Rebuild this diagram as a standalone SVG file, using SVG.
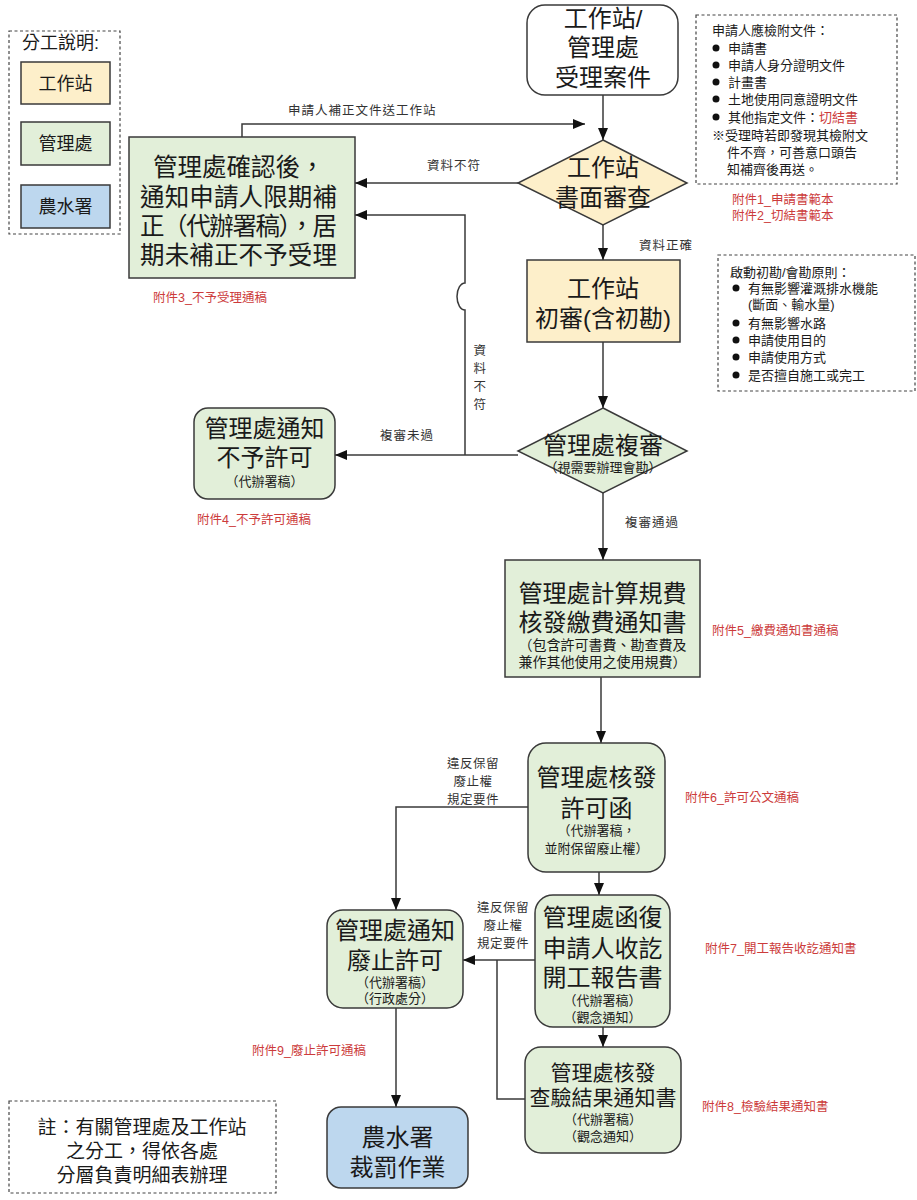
<svg xmlns="http://www.w3.org/2000/svg" width="917" height="1200" viewBox="0 0 917 1200">
<style>
text{font-family:"Liberation Sans","Noto Sans CJK TC",sans-serif;fill:#1a1a1a}
.m{font-size:24px;text-anchor:middle}
.s{font-size:13px;text-anchor:middle}
.lb{font-size:12.5px;fill:#333;letter-spacing:1px}
.lbc{font-size:12.5px;fill:#333;text-anchor:middle;letter-spacing:0.5px}
.red{font-size:12.5px;fill:#cc3b3b}
.box{stroke:#3a3a3a;stroke-width:1.5}
.ws{fill:#fdefca}
.gl{fill:#e2efd9}
.bl{fill:#bdd7ee}
.wh{fill:#ffffff}
.dash{fill:none;stroke:#444;stroke-width:1.2;stroke-dasharray:3 2.5}
.c{fill:none;stroke:#3a3a3a;stroke-width:1.5}
.ca{fill:none;stroke:#3a3a3a;stroke-width:1.5;marker-end:url(#ah)}
.note{font-size:13px}
</style>
<defs>
<marker id="ah" markerUnits="userSpaceOnUse" markerWidth="12" markerHeight="12" viewBox="0 0 12 10" refX="12" refY="5" orient="auto">
<path d="M0,0 L12,5 L0,10 z" fill="#111"/>
</marker>
</defs>

<!-- legend -->
<g id="legend">
<rect class="dash" x="9" y="31" width="111" height="203"/>
<text x="22" y="49" style="font-size:18px">分工說明:</text>
<rect class="box ws" x="21" y="62" width="89" height="42"/>
<text class="m" x="65.5" y="90" style="font-size:18px">工作站</text>
<rect class="box gl" x="21" y="122" width="89" height="43"/>
<text class="m" x="65.5" y="150" style="font-size:18px">管理處</text>
<rect class="box bl" x="21" y="185" width="89" height="43"/>
<text class="m" x="65.5" y="213" style="font-size:18px">農水署</text>
</g>

<!-- connectors -->
<g id="connectors">
<path class="ca" d="M603,95 V140"/>
<path class="ca" d="M603,225 V260"/>
<path class="ca" d="M603,342 V408"/>
<path class="ca" d="M603,493 V560"/>
<path class="ca" d="M601,677 V743"/>
<path class="ca" d="M599,872 V895"/>
<path class="ca" d="M603,1027 V1047"/>
<path class="ca" d="M528,807 H396 V910"/>
<path class="ca" d="M535,960 H463"/>
<path class="c" d="M525,1099 H497 V960"/>
<path class="ca" d="M396,1008 V1107"/>
<path class="ca" d="M518,183 H355"/>
<path class="ca" d="M518,455 H335"/>
<path class="ca" d="M465,455 V310 A8,13.5 0 0 1 465,283 V215 H355"/>
<path class="ca" d="M242,137 V124 H585"/>
<text class="lb" x="288" y="115">申請人補正文件送工作站</text>
<text class="lb" x="427" y="170">資料不符</text>
<text class="lb" x="639" y="250">資料正確</text>
<text class="lb" x="380" y="440">複審未過</text>
<text class="lbc" x="480" y="355">資</text>
<text class="lbc" x="480" y="373">料</text>
<text class="lbc" x="480" y="391">不</text>
<text class="lbc" x="480" y="409">符</text>
<text class="lb" x="625" y="527">複審通過</text>
<text class="lbc" x="473" y="768">違反保留</text>
<text class="lbc" x="473" y="786">廢止權</text>
<text class="lbc" x="473" y="804">規定要件</text>
<text class="lbc" x="503" y="912">違反保留</text>
<text class="lbc" x="503" y="930">廢止權</text>
<text class="lbc" x="503" y="948">規定要件</text>
</g>

<!-- nodes -->
<g id="n-start">
<rect class="box wh" x="527" y="5" width="151" height="90" rx="18"/>
<text class="m" x="603" y="27">工作站/</text>
<text class="m" x="603" y="56">管理處</text>
<text class="m" x="603" y="86">受理案件</text>
</g>

<g id="n-review1">
<polygon class="box ws" points="603,140 687,183 603,225 518,183"/>
<text class="m" x="603" y="176">工作站</text>
<text class="m" x="603" y="206">書面審查</text>
</g>

<g id="n-reject1">
<rect class="box gl" x="129" y="137" width="226" height="141"/>
<text x="153" y="176" style="font-size:24.5px">管理處確認後，</text>
<text x="140" y="206" style="font-size:24.5px" textLength="197" lengthAdjust="spacing">通知申請人限期補</text>
<text x="140" y="235" style="font-size:24.5px" textLength="197" lengthAdjust="spacing">正（代辦署稿），居</text>
<text x="140" y="264" style="font-size:24.5px" textLength="197" lengthAdjust="spacing">期未補正不予受理</text>
</g>
<text class="red" x="153" y="302">附件3_不予受理通稿</text>

<g id="n-initial">
<rect class="box ws" x="527" y="260" width="153" height="82"/>
<text class="m" x="603" y="297">工作站</text>
<text class="m" x="603" y="327">初審(含初勘)</text>
</g>

<g id="n-review2">
<polygon class="box gl" points="603,408 687,451 603,493 518,451"/>
<text class="m" x="603" y="454">管理處複審</text>
<text class="s" x="603" y="472">（視需要辦理會勘）</text>
</g>

<g id="n-reject2">
<rect class="box gl" x="194" y="408" width="141" height="91" rx="14"/>
<text class="m" x="264.5" y="437">管理處通知</text>
<text class="m" x="264.5" y="466">不予許可</text>
<text class="s" x="264.5" y="486">（代辦署稿）</text>
</g>
<text class="red" x="197" y="524">附件4_不予許可通稿</text>

<g id="n-fee">
<rect class="box gl" x="505" y="560" width="195" height="117"/>
<text class="m" x="602.5" y="602">管理處計算規費</text>
<text class="m" x="602.5" y="631">核發繳費通知書</text>
<text class="s" x="602.5" y="650" style="font-size:14px">（包含許可書費、勘查費及</text>
<text class="s" x="602.5" y="667" style="font-size:14px">兼作其他使用之使用規費）</text>
</g>
<text class="red" x="712" y="635">附件5_繳費通知書通稿</text>

<g id="n-permit">
<rect class="box gl" x="528" y="743" width="137" height="129" rx="18"/>
<text class="m" x="596.5" y="786">管理處核發</text>
<text class="m" x="596.5" y="817">許可函</text>
<text class="s" x="596.5" y="835">（代辦署稿，</text>
<text class="s" x="596.5" y="853">並附保留廢止權）</text>
</g>
<text class="red" x="685" y="802">附件6_許可公文通稿</text>

<g id="n-reply">
<rect class="box gl" x="535" y="895" width="135" height="132" rx="18"/>
<text class="m" x="602.5" y="926">管理處函復</text>
<text class="m" x="602.5" y="957">申請人收訖</text>
<text class="m" x="602.5" y="986">開工報告書</text>
<text class="s" x="602.5" y="1005">（代辦署稿）</text>
<text class="s" x="602.5" y="1022">（觀念通知）</text>
</g>
<text class="red" x="705" y="953">附件7_開工報告收訖通知書</text>

<g id="n-revoke">
<rect class="box gl" x="327" y="910" width="136" height="98" rx="16"/>
<text class="m" x="395" y="939">管理處通知</text>
<text class="m" x="395" y="969">廢止許可</text>
<text class="s" x="395" y="987">（代辦署稿）</text>
<text class="s" x="395" y="1003">（行政處分）</text>
</g>
<text class="red" x="252" y="1055">附件9_廢止許可通稿</text>

<g id="n-inspect">
<rect class="box gl" x="525" y="1047" width="156" height="106" rx="16"/>
<text class="m" x="603" y="1080" style="font-size:21px">管理處核發</text>
<text class="m" x="603" y="1105" style="font-size:21px">查驗結果通知書</text>
<text class="s" x="603" y="1124">（代辦署稿）</text>
<text class="s" x="603" y="1141">（觀念通知）</text>
</g>
<text class="red" x="702" y="1111">附件8_檢驗結果通知書</text>

<g id="n-penalty">
<rect class="box bl" x="327" y="1107" width="141" height="81" rx="14"/>
<text class="m" x="397.5" y="1146">農水署</text>
<text class="m" x="397.5" y="1176">裁罰作業</text>
</g>

<!-- note boxes -->
<g id="docs-box">
<rect class="dash" x="696" y="15" width="201" height="169"/>
<text class="note" x="712" y="35">申請人應檢附文件：</text>
<circle cx="716" cy="48" r="3.5" fill="#111"/><text class="note" x="728" y="53">申請書</text>
<circle cx="716" cy="65" r="3.5" fill="#111"/><text class="note" x="728" y="70">申請人身分證明文件</text>
<circle cx="716" cy="82" r="3.5" fill="#111"/><text class="note" x="728" y="87">計畫書</text>
<circle cx="716" cy="99" r="3.5" fill="#111"/><text class="note" x="728" y="104">土地使用同意證明文件</text>
<circle cx="716" cy="117" r="3.5" fill="#111"/><text class="note" x="728" y="122">其他指定文件：<tspan fill="#cc3b3b">切結書</tspan></text>
<text class="note" x="712" y="140">※受理時若即發現其檢附文</text>
<text class="note" x="727" y="157">件不齊，可善意口頭告</text>
<text class="note" x="727" y="174">知補齊後再送。</text>
</g>
<text class="red" x="732" y="204">附件1_申請書範本</text>
<text class="red" x="732" y="220">附件2_切結書範本</text>

<g id="survey-box">
<rect class="dash" x="718" y="255" width="197" height="136"/>
<text class="note" x="730" y="277">啟動初勘/會勘原則：</text>
<circle cx="736" cy="288" r="3.5" fill="#111"/><text class="note" x="748" y="293">有無影響灌溉排水機能</text>
<text class="note" x="748" y="309">(斷面、輸水量)</text>
<circle cx="736" cy="323" r="3.5" fill="#111"/><text class="note" x="748" y="328">有無影響水路</text>
<circle cx="736" cy="340" r="3.5" fill="#111"/><text class="note" x="748" y="345">申請使用目的</text>
<circle cx="736" cy="357" r="3.5" fill="#111"/><text class="note" x="748" y="362">申請使用方式</text>
<circle cx="736" cy="375" r="3.5" fill="#111"/><text class="note" x="748" y="380">是否擅自施工或完工</text>
</g>

<g id="remark-box">
<rect class="dash" x="9" y="1101" width="267" height="92"/>
<text class="m" x="142" y="1134" style="font-size:19px">註：有關管理處及工作站</text>
<text class="m" x="142" y="1158" style="font-size:19px">之分工，得依各處</text>
<text class="m" x="142" y="1182" style="font-size:19px">分層負責明細表辦理</text>
</g>
</svg>
